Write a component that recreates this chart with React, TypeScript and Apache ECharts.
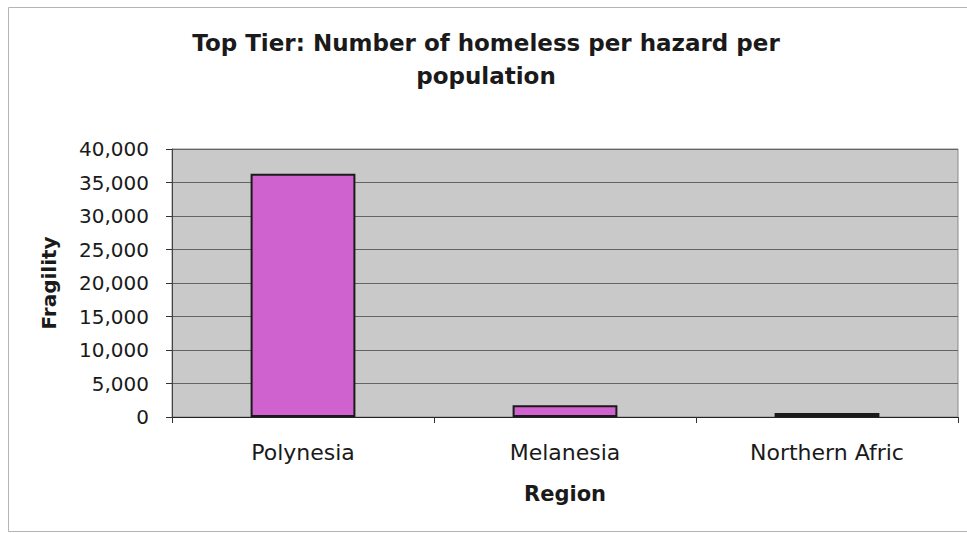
import React, { useEffect, useRef } from "react";
import * as echarts from "echarts";

// Regions on the category axis and their fragility values
const categories: string[] = ["Polynesia", "Melanesia", "Northern Afric"];
const fragility: number[] = [36300, 1750, 600];

// Value axis range and step
const yMin = 0;
const yMax = 40000;
const yStep = 5000;

const titleText = "Top Tier: Number of homeless per hazard per\npopulation";
const FONT = "DejaVu Sans";

export default function App() {
  const ref = useRef<HTMLDivElement>(null);

  useEffect(() => {
    if (!ref.current) return;
    const chart = echarts.init(ref.current, null, { renderer: "svg" });
    chart.setOption({
      animation: false,
      backgroundColor: "#ffffff",
      title: {
        text: titleText,
        left: 486,
        top: 26,
        padding: 0,
        textAlign: "center",
        textStyle: {
          fontFamily: FONT,
          fontSize: 23,
          fontWeight: "bold",
          color: "#1a1a1a",
          lineHeight: 33,
        },
      },
      graphic: [
        {
          type: "rect",
          silent: true,
          shape: { x: 8.5, y: 7.5, width: 975, height: 524 },
          style: { fill: "none", stroke: "#b4b4b4", lineWidth: 1 },
          z: 0,
        },
      ],
      grid: {
        left: 172,
        right: 9,
        top: 149,
        bottom: 116,
        containLabel: false,
        outerBoundsMode: "none",
        show: true,
        backgroundColor: "#c9c9c9",
        borderColor: "#8a8a8a",
        borderWidth: 1,
      },
      xAxis: {
        type: "category",
        data: categories,
        name: "Region",
        nameLocation: "middle",
        nameGap: 66,
        nameTextStyle: {
          fontFamily: FONT,
          fontSize: 21,
          fontWeight: "bold",
          color: "#1a1a1a",
        },
        axisLine: { show: true, lineStyle: { color: "#222222", width: 1 } },
        axisTick: {
          show: true,
          length: 6,
          lineStyle: { color: "#333333" },
        },
        axisLabel: {
          fontFamily: FONT,
          fontSize: 22,
          color: "#1a1a1a",
          margin: 24,
        },
        splitLine: { show: false },
      },
      yAxis: {
        type: "value",
        min: yMin,
        max: yMax,
        interval: yStep,
        name: "Fragility",
        nameLocation: "middle",
        nameRotate: 90,
        nameGap: 113,
        nameTextStyle: {
          fontFamily: FONT,
          fontSize: 20,
          fontWeight: "bold",
          color: "#1a1a1a",
        },
        axisLine: { show: true, lineStyle: { color: "#444444", width: 1 } },
        axisTick: {
          show: true,
          length: 6,
          lineStyle: { color: "#333333" },
        },
        axisLabel: {
          fontFamily: FONT,
          fontSize: 20,
          color: "#1a1a1a",
          margin: 23,
          formatter: (v: number) => v.toLocaleString("en-US"),
        },
        splitLine: {
          show: true,
          lineStyle: { color: "#646464", width: 1 },
        },
      },
      series: [
        {
          type: "bar",
          data: fragility,
          barWidth: "40%",
          itemStyle: {
            color: "#d062d0",
            borderColor: "#1a1a1a",
            borderWidth: 2,
          },
        },
      ],
    });
    return () => chart.dispose();
  }, []);

  return (
    <div
      ref={ref}
      style={{ position: "absolute", left: 0, top: 0, width: 967, height: 533 }}
    />
  );
}
